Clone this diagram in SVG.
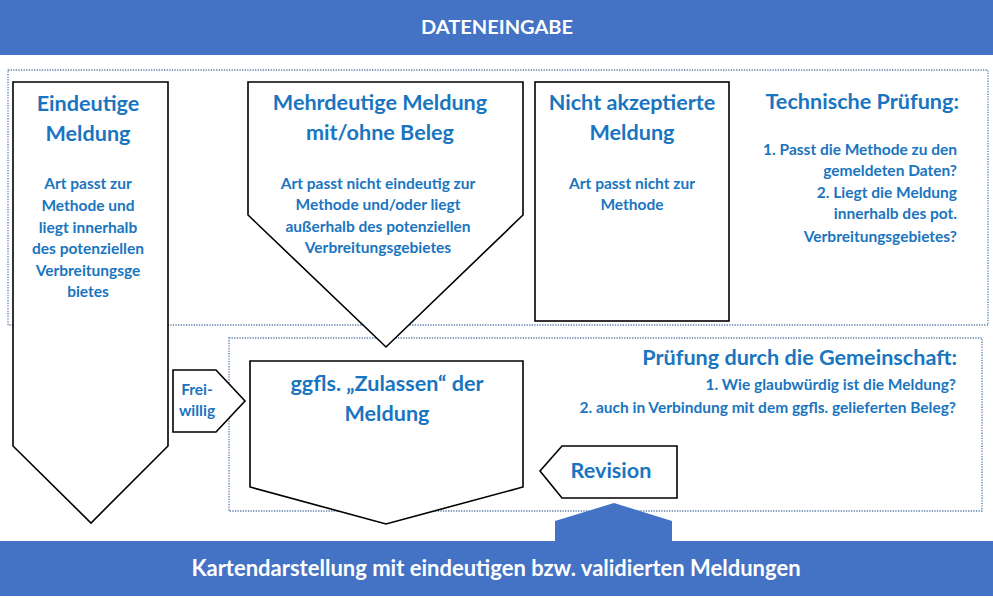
<svg xmlns="http://www.w3.org/2000/svg" width="993" height="598" viewBox="0 0 993 598">
<style>
.band{fill:#4472C4}
.bt{fill:#fff;font-family:Lato,"Open Sans",sans-serif;font-weight:bold;text-anchor:middle}
.frame{fill:none;stroke:#5b7ea8;stroke-width:1.3;stroke-dasharray:1.3 1.3}
.sh{fill:#fff;stroke:#000;stroke-width:1.6;stroke-linejoin:miter}
.t{fill:#1a75c0;font-family:Lato,"Open Sans",sans-serif;font-weight:bold;text-anchor:middle}
.h{font-size:21.6px}
.s{font-size:15.5px}
.r{text-anchor:end}
</style>
<rect width="993" height="598" fill="#fff"/>
<g id="dateneingabe">
<rect class="band" x="0" y="0" width="993" height="55"/>
<text class="bt" x="497" y="34" font-size="19" textLength="152" lengthAdjust="spacingAndGlyphs">DATENEINGABE</text>
</g>
<g id="frame-technisch">
<rect class="frame" x="8" y="70" width="980" height="255"/>
</g>
<g id="frame-gemeinschaft">
<rect class="frame" x="229" y="338" width="753" height="173"/>
</g>
<g id="eindeutig">
<polygon class="sh" points="13,82 168,82 168,446 91,523 13,446"/>
<text class="t h" x="88" y="111">Eindeutige</text>
<text class="t h" x="88" y="141">Meldung</text>
<text class="t s" x="88" y="189">Art passt zur</text>
<text class="t s" x="88" y="211">Methode und</text>
<text class="t s" x="88" y="233">liegt innerhalb</text>
<text class="t s" x="88" y="254">des potenziellen</text>
<text class="t s" x="88" y="276">Verbreitungsge</text>
<text class="t s" x="88" y="297">bietes</text>
</g>
<g id="mehrdeutig">
<polygon class="sh" points="248,82 523,82 523,215 386,347 248,215"/>
<text class="t h" x="380" y="110">Mehrdeutige Meldung</text>
<text class="t h" x="380" y="140">mit/ohne Beleg</text>
<text class="t s" x="378" y="189">Art passt nicht eindeutig zur</text>
<text class="t s" x="378" y="210">Methode und/oder liegt</text>
<text class="t s" x="378" y="232">außerhalb des potenziellen</text>
<text class="t s" x="378" y="253">Verbreitungsgebietes</text>
</g>
<g id="nicht-akzeptiert">
<rect class="sh" x="535" y="82" width="194" height="239"/>
<text class="t h" x="632" y="110">Nicht akzeptierte</text>
<text class="t h" x="632" y="140">Meldung</text>
<text class="t s" x="632" y="189">Art passt nicht zur</text>
<text class="t s" x="632" y="210">Methode</text>
</g>
<g id="technische-pruefung">
<text class="t h r" x="959" y="109">Technische Prüfung:</text>
<text class="t s r" x="957" y="155">1. Passt die Methode zu den</text>
<text class="t s r" x="957" y="176">gemeldeten Daten?</text>
<text class="t s r" x="957" y="198">2. Liegt die Meldung</text>
<text class="t s r" x="957" y="219">innerhalb des pot.</text>
<text class="t s r" x="957" y="242">Verbreitungsgebietes?</text>
</g>
<g id="gemeinschaft">
<text class="t h r" x="957" y="365">Prüfung durch die Gemeinschaft:</text>
<text class="t s r" x="956" y="390">1. Wie glaubwürdig ist die Meldung?</text>
<text class="t s r" x="956" y="413">2. auch in Verbindung mit dem ggfls. gelieferten Beleg?</text>
</g>
<g id="freiwillig">
<polygon class="sh" points="173,370 216,370 245,401 216,432 173,432"/>
<text class="t s" x="197" y="395">Frei-</text>
<text class="t s" x="197" y="416">willig</text>
</g>
<g id="zulassen">
<polygon class="sh" points="250,361 523,361 523,487 386,524 250,487"/>
<text class="t h" x="387" y="391">ggfls. „Zulassen“ der</text>
<text class="t h" x="387" y="421">Meldung</text>
</g>
<g id="revision">
<polygon class="sh" points="540,471 562,446 677,446 677,498 562,498"/>
<text class="t" x="611" y="478" font-size="21.6">Revision</text>
</g>
<g id="connectors">
<polygon class="band" points="555,541 555,521 614,503 672,521 672,541"/>
</g>
<g id="kartendarstellung">
<rect class="band" x="0" y="541" width="993" height="55"/>
<text class="bt" x="496" y="576" font-size="22">Kartendarstellung mit eindeutigen bzw. validierten Meldungen</text>
</g>
</svg>
